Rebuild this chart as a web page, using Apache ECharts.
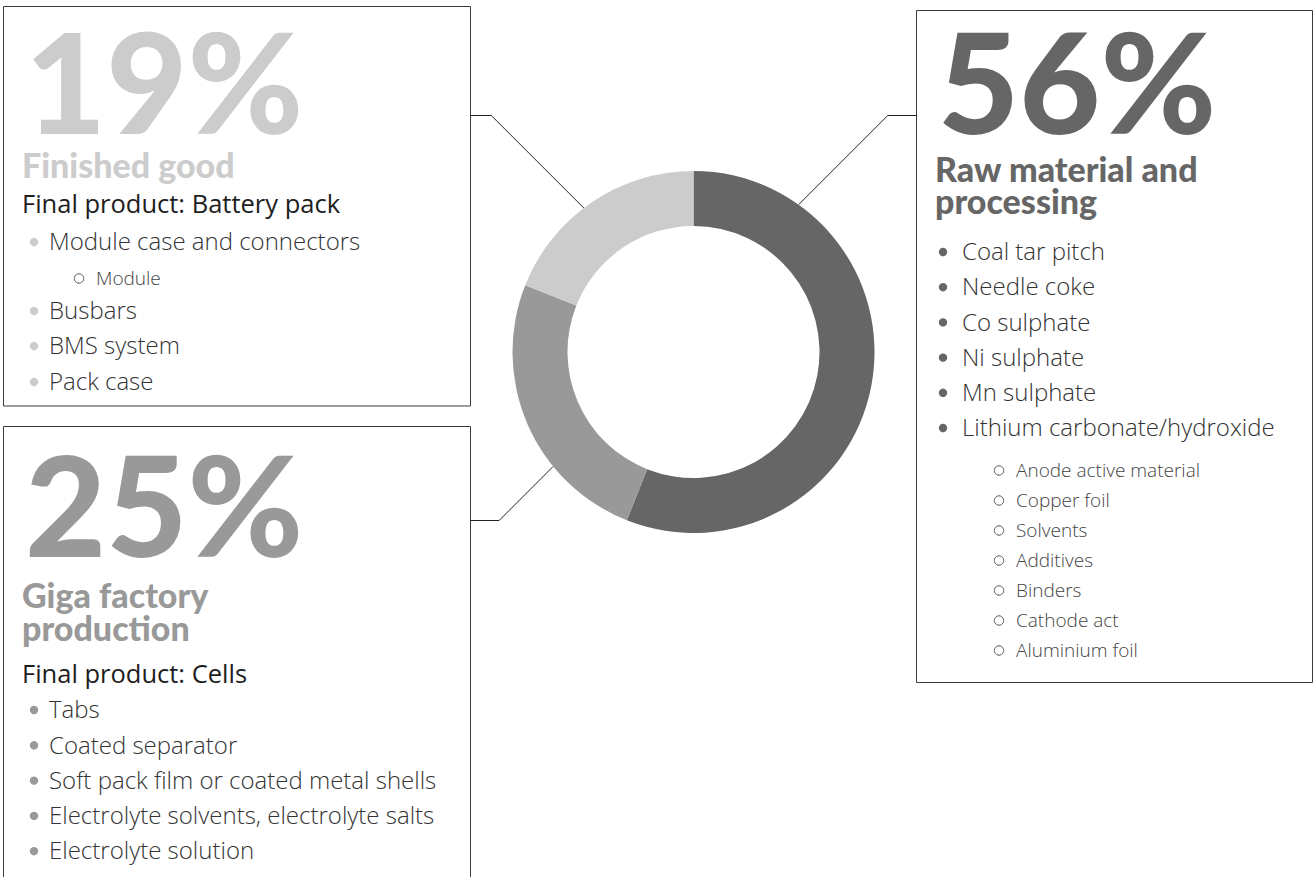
<!DOCTYPE html>
<html><head><meta charset="utf-8">
<script src="https://cdn.jsdelivr.net/npm/echarts@6/dist/echarts.min.js"></script>
<style>html,body{margin:0;padding:0;background:#fff}#c{width:1314px;height:877px}</style>
</head><body><div id="c"></div>
<script>
// ---------- DATA ----------
const categories = ['Raw material and processing', 'Giga factory production', 'Finished good'];
const shares = [56, 25, 19];
const percentLabels = ['56%', '25%', '19%'];
const rawTitleLines = ['Raw material and', 'processing'];
const gigaTitleLines = ['Giga factory', 'production'];
const finishedTitleLines = ['Finished good'];
const gigaSubtitle = 'Final product: Cells';
const finishedSubtitle = 'Final product: Battery pack';
const rawItems = ['Coal tar pitch', 'Needle coke', 'Co sulphate', 'Ni sulphate', 'Mn sulphate', 'Lithium carbonate/hydroxide'];
const rawSubItems = ['Anode active material', 'Copper foil', 'Solvents', 'Additives', 'Binders', 'Cathode act', 'Aluminium foil'];
const gigaItems = ['Tabs', 'Coated separator', 'Soft pack film or coated metal shells', 'Electrolyte solvents, electrolyte salts', 'Electrolyte solution'];
const finishedItems = ['Module case and connectors', 'Busbars', 'BMS system', 'Pack case'];
const finishedSubItems = ['Module'];

// ---------- STYLE / LAYOUT ----------
const sliceColors = ['#666666', '#999999', '#cccccc'];
const BIG = 'Lato, "Noto Sans", sans-serif';
const BODY = '"Open Sans", "Noto Sans", sans-serif';
const pieCenter = [693.5, 352];
const pieRadius = [126, 181];
const MID = 0.387; // middle-to-baseline ratio
const ITEM = 24, SUB = 19, SUBT = 25.5, TITLE = 34, PCT = 140;

const chart = echarts.init(document.getElementById('c'), null, { renderer: 'svg' });
const g = [];

function txt(x, base, s, size, weight, color, fam, lh) {
  g.push({ type: 'text', x: x, y: base - MID * size, silent: true,
    style: { text: s, font: weight + ' ' + size + 'px ' + (fam || BODY), fill: color,
      verticalAlign: 'middle', align: 'left', lineHeight: lh || Math.round(size * 1.05) } });
}
function rect(x, y, w, h) {
  g.push({ type: 'rect', shape: { x: x, y: y, width: w, height: h }, silent: true,
    style: { fill: 'none', stroke: '#3a3a3a', lineWidth: 1 } });
}
function dot(cx, cy, color) {
  g.push({ type: 'circle', shape: { cx: cx, cy: cy, r: 4.2 }, silent: true, style: { fill: color } });
}
function ring(cx, cy) {
  g.push({ type: 'circle', shape: { cx: cx, cy: cy, r: 4.7 }, silent: true, style: { fill: 'none', stroke: '#555', lineWidth: 1 } });
}

// Box: Finished good (top-left)
rect(3.5, 6.5, 467, 399.5);
txt(25, 134, percentLabels[2], PCT, 900, sliceColors[2], BIG, 108);
finishedTitleLines.forEach((s, i) => txt(22, 178 + i * 33, s, TITLE, 900, sliceColors[2], BIG, 28));
txt(22, 212.5, finishedSubtitle, SUBT, 500, '#1e1e1e');
(function () {
  const bases = [250, 319, 354, 390];
  finishedItems.forEach((s, i) => { dot(34, bases[i] - 8, sliceColors[2]); txt(49, bases[i], s, ITEM, 300, '#333'); });
  const sb = [285];
  finishedSubItems.forEach((s, i) => { ring(79, sb[i] - 6.5); txt(96, sb[i], s, SUB, 300, '#444'); });
})();

// Box: Giga factory (bottom-left)
rect(3.5, 426.5, 467, 500);
txt(25, 557, percentLabels[1], PCT, 900, sliceColors[1], BIG, 108);
gigaTitleLines.forEach((s, i) => txt(22, 608 + i * 33, s, TITLE, 900, sliceColors[1], BIG, 28));
txt(22, 683, gigaSubtitle, SUBT, 500, '#1e1e1e');
gigaItems.forEach((s, i) => { const b = 718 + i * 35.3; dot(34, b - 8, sliceColors[1]); txt(49, b, s, ITEM, 300, '#333'); });

// Box: Raw material (right)
rect(916.5, 10.5, 396, 672);
txt(938, 134, percentLabels[0], PCT, 900, sliceColors[0], BIG, 108);
rawTitleLines.forEach((s, i) => txt(935, 182 + i * 32, s, TITLE, 900, sliceColors[0], BIG, 28));
rawItems.forEach((s, i) => { const b = 260 + i * 35.2; dot(943, b - 8, sliceColors[0]); txt(962, b, s, ITEM, 300, '#333'); });
rawSubItems.forEach((s, i) => { const b = 477 + i * 30; ring(999, b - 6.5); txt(1016, b, s, SUB, 300, '#444'); });

// Leader lines from the ring's outer edge
const leaders = [
  { angle: 35.5, elbowY: 115.5, endX: 916.5 },
  { angle: -37.3, elbowY: 115.5, endX: 470.5 },
  { angle: 230.8, elbowY: 520.5, endX: 470.5 }
];
leaders.forEach(L => {
  const a = L.angle * Math.PI / 180;
  const px = pieCenter[0] + pieRadius[1] * Math.sin(a);
  const py = pieCenter[1] - pieRadius[1] * Math.cos(a);
  const ex = px + Math.sign(L.endX - px) * Math.abs(L.elbowY - py);
  g.push({ type: 'polyline', silent: true, shape: { points: [[px, py], [ex, L.elbowY], [L.endX, L.elbowY]] },
    style: { stroke: '#222', lineWidth: 1, fill: 'none' } });
});

chart.setOption({
  animation: false,
  backgroundColor: '#fff',
  series: [{
    type: 'pie',
    center: pieCenter,
    radius: pieRadius,
    startAngle: 90,
    clockwise: true,
    silent: true,
    label: { show: false },
    labelLine: { show: false },
    itemStyle: { borderWidth: 0 },
    data: categories.map((c, i) => ({ name: c, value: shares[i], itemStyle: { color: sliceColors[i] } }))
  }],
  graphic: g
});
</script></body></html>
